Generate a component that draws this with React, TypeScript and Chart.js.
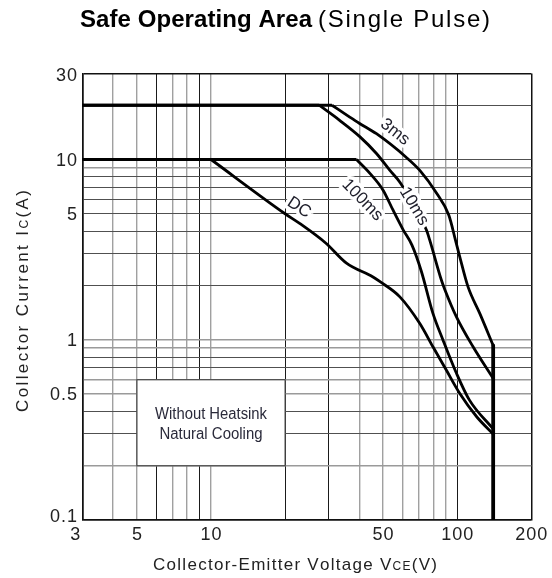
import React, { useEffect, useRef } from "react";
import { Chart, registerables } from "chart.js";
Chart.register(...registerables);

// ---------- axes / grid ----------
const xGridValues = [3, 4, 5, 6, 7, 8, 9, 10, 20, 30, 40, 50, 60, 70, 80, 90, 100, 200];
const yGridValues = [0.1, 0.2, 0.3, 0.4, 0.5, 0.6, 0.7, 0.8, 0.9, 1, 2, 3, 4, 5, 6, 7, 8, 9, 10, 20, 30];
const xTickLabels = [3, 5, 10, 50, 100, 200];
const yTickLabels = [30, 10, 5, 1, 0.5, 0.1];
const xDarkGrid = [6, 9, 20, 30, 100];
const yLightGrid = [0.2, 0.5, 0.6, 0.9, 1, 9];

// ---------- series (VCE in V, IC in A) ----------
const vce3ms = [3, 31, 36.6, 40, 47, 62, 70.5, 82.5, 92.5, 98.5, 102, 110.6, 123.5, 140];
const ic3ms = [20, 20, 17.2, 15.9, 13.9, 10.3, 8.7, 6.5, 4.9, 3.55, 2.95, 1.97, 1.4, 0.93];

const vce10ms = [3, 27.5, 33.3, 40.2, 47, 53.3, 58.4, 75, 77.3, 86.3, 89.2, 99.3, 116, 140];
const ic10ms = [20, 20, 16.5, 13.4, 10.8, 8.7, 7.5, 4.06, 3.58, 2.14, 1.89, 1.34, 0.914, 0.61];

const vce100ms = [3, 39, 44.2, 50, 54.9, 60.4, 65.5, 71.5, 79.7, 87.6, 99.3, 112, 140];
const ic100ms = [10, 10, 8.38, 6.76, 5.23, 4.06, 3.35, 2.4, 1.4, 0.995, 0.652, 0.464, 0.32];

const vceDC = [3, 10, 20, 22.9, 29.3, 35.5, 45.5, 48.6, 58.5, 70.5, 79.7, 90.3, 102.3, 120, 140];
const icDC = [10, 10, 5.0, 4.42, 3.43, 2.66, 2.23, 2.1, 1.73, 1.23, 0.914, 0.679, 0.505, 0.374, 0.3];

const vceLimit = [140, 140];
const icLimit = [0.93, 0.1];

// ---------- annotations ----------
const curveLabelText = ["3ms", "10ms", "100ms", "DC"];
const curveLabelVce = [55.9, 66.8, 41.2, 22.8];
const curveLabelIc = [14.2, 5.5, 5.96, 5.42];
const curveLabelAngle = [38, 59, 46, 33];

const noteLines = ["Without Heatsink", "Natural Cooling"];
const noteBoxVce = [5, 20];
const noteBoxIc = [0.6, 0.2];

const FONT = '"Liberation Sans", Arial, Helvetica, sans-serif';

type Seg = { text: string; font: string };

function segWidth(ctx: CanvasRenderingContext2D, segs: Seg[]) {
  let w = 0;
  let n = 0;
  for (const s of segs) {
    ctx.font = s.font;
    for (const ch of s.text) {
      w += ctx.measureText(ch).width;
      n++;
    }
  }
  return { w, n };
}

function drawSegs(ctx: CanvasRenderingContext2D, segs: Seg[], x: number, y: number, spacing: number) {
  let cx = x;
  for (const s of segs) {
    ctx.font = s.font;
    for (const ch of s.text) {
      ctx.fillText(ch, cx, y);
      cx += ctx.measureText(ch).width + spacing;
    }
  }
}

function drawFitted(ctx: CanvasRenderingContext2D, segs: Seg[], x: number, y: number, target: number) {
  const { w, n } = segWidth(ctx, segs);
  const sp = (target - w) / Math.max(1, n - 1);
  drawSegs(ctx, segs, x, y, sp);
}

function drawCentered(ctx: CanvasRenderingContext2D, text: string, font: string, cx: number, y: number, spacing: number) {
  const segs = [{ text, font }];
  const { w, n } = segWidth(ctx, segs);
  const total = w + spacing * (n - 1);
  drawSegs(ctx, segs, cx - total / 2, y, spacing);
}

function drawRight(ctx: CanvasRenderingContext2D, text: string, font: string, rx: number, y: number, spacing: number) {
  const segs = [{ text, font }];
  const { w, n } = segWidth(ctx, segs);
  const total = w + spacing * (n - 1);
  drawSegs(ctx, segs, rx - total, y, spacing);
}

const pts = (v: number[], i: number[], a: number, b?: number) => {
  const vs = v.slice(a, b);
  const is = i.slice(a, b);
  return vs.map((x, k) => ({ x, y: is[k] }));
};

export default function App() {
  const ref = useRef<HTMLCanvasElement>(null);

  useEffect(() => {
    const canvas = ref.current!;
    const lineDs = (data: { x: number; y: number }[], width: number, smooth: boolean) => ({
      data,
      borderColor: "#000",
      backgroundColor: "#000",
      borderWidth: width,
      pointRadius: 0,
      fill: false,
      tension: smooth ? 0.4 : 0,
      cubicInterpolationMode: smooth ? ("monotone" as const) : ("default" as const),
      borderCapStyle: "butt" as const,
      borderJoinStyle: "round" as const,
    });

    const overlay = {
      id: "overlay",
      beforeDatasetsDraw(chart: any) {
        const ctx: CanvasRenderingContext2D = chart.ctx;
        const xs = chart.scales.x;
        const ys = chart.scales.y;
        const x0 = xs.getPixelForValue(noteBoxVce[0]);
        const x1 = xs.getPixelForValue(noteBoxVce[1]);
        const y0 = ys.getPixelForValue(noteBoxIc[0]);
        const y1 = ys.getPixelForValue(noteBoxIc[1]);
        ctx.save();
        ctx.fillStyle = "#fff";
        ctx.fillRect(x0, y0, x1 - x0, y1 - y0);
        ctx.strokeStyle = "#444";
        ctx.lineWidth = 1.2;
        ctx.strokeRect(x0, y0, x1 - x0, y1 - y0);
        ctx.fillStyle = "#2a2a3a";
        ctx.textAlign = "center";
        ctx.textBaseline = "alphabetic";
        ctx.font = `16px ${FONT}`;
        const targets = [112, 103];
        const offs = [39, 59.7];
        noteLines.forEach((t, k) => {
          const m = ctx.measureText(t).width;
          ctx.save();
          ctx.translate((x0 + x1) / 2, y0 + offs[k]);
          ctx.scale(targets[k] / m, 1);
          ctx.fillText(t, 0, 0);
          ctx.restore();
        });
        ctx.restore();
      },
      afterDatasetsDraw(chart: any) {
        const ctx: CanvasRenderingContext2D = chart.ctx;
        const xs = chart.scales.x;
        const ys = chart.scales.y;
        ctx.save();
        ctx.font = `17px ${FONT}`;
        ctx.textAlign = "center";
        ctx.textBaseline = "middle";
        curveLabelText.forEach((t, k) => {
          const px = xs.getPixelForValue(curveLabelVce[k]);
          const py = ys.getPixelForValue(curveLabelIc[k]);
          ctx.save();
          ctx.translate(px, py);
          ctx.rotate((curveLabelAngle[k] * Math.PI) / 180);
          ctx.strokeStyle = "#fff";
          ctx.lineWidth = 7;
          ctx.lineJoin = "round";
          ctx.strokeText(t, 0, 0);
          ctx.fillStyle = "#1e1e2a";
          ctx.fillText(t, 0, 0);
          ctx.restore();
        });
        ctx.restore();
      },
      afterDraw(chart: any) {
        const ctx: CanvasRenderingContext2D = chart.ctx;
        const xs = chart.scales.x;
        const ys = chart.scales.y;
        ctx.save();
        ctx.textAlign = "left";
        ctx.textBaseline = "alphabetic";
        ctx.fillStyle = "#222";
        const tickFont = `18px ${FONT}`;
        // x tick labels
        xTickLabels.forEach((v) => {
          let px = xs.getPixelForValue(v);
          if (v === xTickLabels[0]) px -= 7;
          drawCentered(ctx, String(v), tickFont, px, 540, 1);
        });
        // y tick labels
        yTickLabels.forEach((v) => {
          let py = ys.getPixelForValue(v);
          if (v === yTickLabels[yTickLabels.length - 1]) py -= 4;
          if (v === yTickLabels[0]) py += 1.5;
          drawRight(ctx, String(v), tickFont, 77, py + 6, 1);
        });
        // x axis title
        drawFitted(
          ctx,
          [
            { text: "Collector-Emitter Voltage V", font: `17px ${FONT}` },
            { text: "CE", font: `12px ${FONT}` },
            { text: "(V)", font: `17px ${FONT}` },
          ],
          153,
          570,
          284
        );
        // y axis title
        ctx.save();
        ctx.translate(28, 412);
        ctx.rotate(-Math.PI / 2);
        drawFitted(
          ctx,
          [
            { text: "Collector Current I", font: `17px ${FONT}` },
            { text: "C", font: `12px ${FONT}` },
            { text: "(A)", font: `17px ${FONT}` },
          ],
          0,
          0,
          222
        );
        ctx.restore();
        // chart title
        ctx.fillStyle = "#000";
        drawFitted(ctx, [{ text: "Safe Operating Area", font: `bold 24px ${FONT}` }], 80, 27, 232);
        drawFitted(ctx, [{ text: "(Single Pulse)", font: `24px ${FONT}` }], 318, 27, 172);
        ctx.restore();
      },
    };

    const chart = new Chart(canvas, {
      type: "line",
      data: {
        datasets: [
          lineDs(pts(vce3ms, ic3ms, 0, 2), 2.8, false),
          lineDs(pts(vce3ms, ic3ms, 1), 2.8, true),
          lineDs(pts(vce10ms, ic10ms, 0, 2), 2.8, false),
          lineDs(pts(vce10ms, ic10ms, 1), 2.8, true),
          lineDs(pts(vce100ms, ic100ms, 0, 2), 2.8, false),
          lineDs(pts(vce100ms, ic100ms, 1), 2.8, true),
          lineDs(pts(vceDC, icDC, 0, 2), 2.8, false),
          lineDs(pts(vceDC, icDC, 1), 2.8, true),
          lineDs(pts(vceLimit, icLimit, 0), 3.8, false),
        ] as any,
      },
      options: {
        animation: false,
        responsive: false,
        maintainAspectRatio: false,
        parsing: false as any,
        normalized: true,
        layout: { padding: { left: 0, right: 552 - 531.3, top: 73.5, bottom: 0 } },
        plugins: {
          legend: { display: false },
          tooltip: { enabled: false },
          title: { display: false },
        },
        scales: {
          x: {
            type: "logarithmic",
            min: 3,
            max: 200,
            afterBuildTicks: (s: any) => {
              s.ticks = xGridValues.map((value) => ({ value }));
            },
            afterFit: (s: any) => {
              s.height = 58;
            },
            ticks: { display: false },
            grid: {
              drawTicks: false,
              color: (c: any) => {
                const v = c.tick ? c.tick.value : 0;
                if (v === 3 || v === 200) return "#111";
                return xDarkGrid.includes(v) ? "#1a1a1a" : "#a0a0a0";
              },
              lineWidth: (c: any) => {
                const v = c.tick ? c.tick.value : 0;
                if (v === 3 || v === 200) return 1.5;
                return xDarkGrid.includes(v) ? 1 : 1.4;
              },
            },
            border: { display: true, color: "#111", width: 1.5 },
          },
          y: {
            type: "logarithmic",
            min: 0.1,
            max: 30,
            afterBuildTicks: (s: any) => {
              s.ticks = yGridValues.map((value) => ({ value }));
            },
            afterFit: (s: any) => {
              s.width = 82.3;
            },
            ticks: { display: false },
            grid: {
              drawTicks: false,
              color: (c: any) => {
                const v = c.tick ? c.tick.value : 0;
                if (v === 0.1 || v === 30) return "#111";
                return yLightGrid.includes(v) ? "#9a9a9a" : "#505050";
              },
              lineWidth: (c: any) => {
                const v = c.tick ? c.tick.value : 0;
                if (v === 0.1 || v === 30) return 1.5;
                return yLightGrid.includes(v) ? 1.4 : 1;
              },
            },
            border: { display: true, color: "#111", width: 1.5 },
          },
        },
      } as any,
      plugins: [overlay],
    });
    return () => chart.destroy();
  }, []);

  return (
    <div style={{ position: "absolute", left: 0, top: 0, width: 552, height: 578, background: "#fff" }}>
      <canvas ref={ref} width={552} height={578} style={{ display: "block", width: 552, height: 578 }} />
    </div>
  );
}
